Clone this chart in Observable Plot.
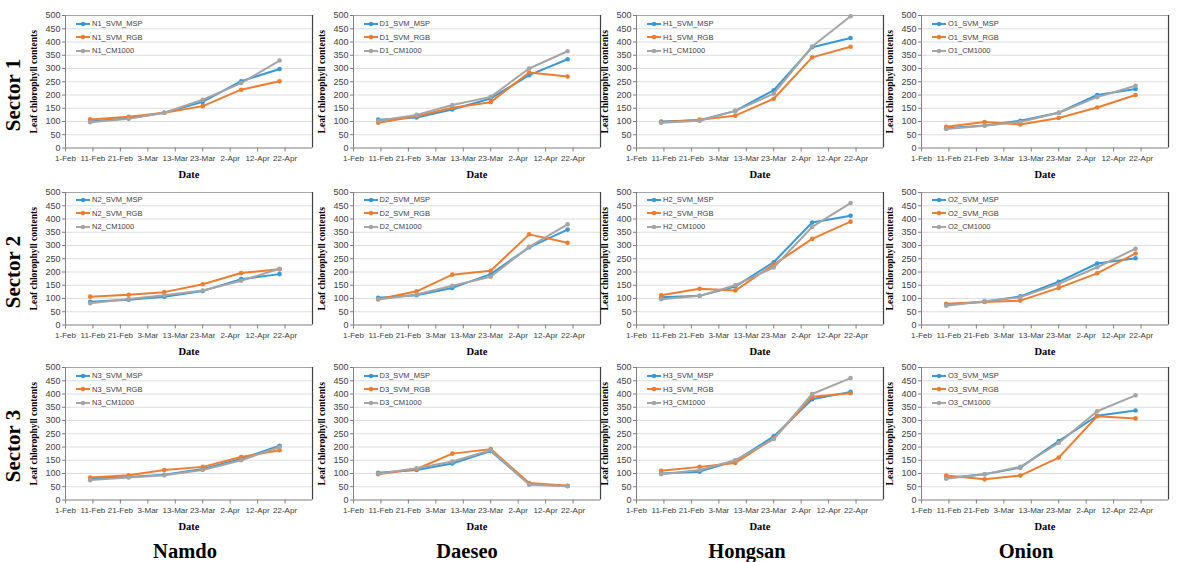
<!DOCTYPE html>
<html><head><meta charset="utf-8">
<script src="https://cdn.jsdelivr.net/npm/d3@7"></script>
<script src="https://cdn.jsdelivr.net/npm/@observablehq/plot@0.6"></script>
<style>
body{margin:0;background:#fff;}
#wrap{position:relative;width:1183px;height:562px;overflow:hidden;background:#fff;}
.panel{position:absolute;}
.panel svg{overflow:visible;}
.panel g[aria-label="y-axis label"] text,.panel g[aria-label="x-axis label"] text{font-family:"Liberation Serif","Times New Roman",serif;font-weight:bold;fill:#000;}
.panel g[aria-label="y-axis label"] text{font-size:9.5px;}
.panel g[aria-label="x-axis label"] text{font-size:10.5px;}
.panel g[aria-label="x-axis tick label"] text,.panel g[aria-label="y-axis tick label"] text{fill:#404040;}
.legend{position:absolute;font:7.5px "Liberation Sans",Arial,sans-serif;color:#404040;}
.legend .row{display:flex;align-items:center;height:13.5px;white-space:nowrap;}
.legend svg{margin-right:2px;}
.sector,.crop{position:absolute;font-family:"Liberation Serif","Times New Roman",serif;font-weight:bold;color:#000;white-space:nowrap;line-height:1;}
.sector{font-size:21px;transform:translate(-50%,-50%) rotate(-90deg);}
.crop{font-size:20.5px;transform:translate(-50%,-50%);}
</style></head>
<body><div id="wrap"></div>
<script>
// ---- data ----
const sampleDates = ["2019-02-10","2019-02-24","2019-03-09","2019-03-23","2019-04-06","2019-04-20"];
const xTickDates = ["2019-02-01","2019-02-11","2019-02-21","2019-03-03","2019-03-13","2019-03-23","2019-04-02","2019-04-12","2019-04-22"];
const xTickLabels = ["1-Feb","11-Feb","21-Feb","3-Mar","13-Mar","23-Mar","2-Apr","12-Apr","22-Apr"];
const xDomain = ["2019-02-01","2019-05-02"];
const yTicks = [0,50,100,150,200,250,300,350,400,450,500];
const crops = ["N","D","H","O"];
const cropNames = ["Namdo","Daeseo","Hongsan","Onion"];
const sectors = ["Sector 1","Sector 2","Sector 3"];
const seriesSuffix = ["SVM_MSP","SVM_RGB","CM1000"];
const seriesColors = ["#3a98d4","#ed7d31","#a5a5a5"];

const N1_MSP = [100,112,133,174,252,298];
const N1_RGB = [108,118,133,158,220,252];
const N1_CM  = [97,110,133,182,245,330];
const D1_MSP = [107,115,145,187,275,335];
const D1_RGB = [95,120,152,173,285,270];
const D1_CM  = [103,125,162,193,300,365];
const H1_MSP = [100,105,140,218,380,415];
const H1_RGB = [97,107,122,186,342,382];
const H1_CM  = [95,103,140,205,383,497];
const O1_MSP = [75,85,103,133,200,223];
const O1_RGB = [80,98,89,113,153,200];
const O1_CM  = [72,84,98,133,192,235];

const N2_MSP = [88,95,107,128,173,192];
const N2_RGB = [107,114,124,154,196,210];
const N2_CM  = [82,98,112,130,167,212];
const D2_MSP = [103,112,140,192,293,360];
const D2_RGB = [97,127,190,205,342,310];
const D2_CM  = [96,115,148,182,295,380];
const H2_MSP = [105,110,145,237,387,412];
const H2_RGB = [112,137,130,228,325,390];
const H2_CM  = [97,110,150,217,370,460];
const O2_MSP = [77,88,108,163,232,252];
const O2_RGB = [80,87,92,140,195,270];
const O2_CM  = [73,90,105,155,218,288];

const N3_MSP = [80,87,95,117,155,205];
const N3_RGB = [85,93,113,125,162,188];
const N3_CM  = [75,85,93,113,150,200];
const D3_MSP = [103,113,138,185,60,53];
const D3_RGB = [97,117,175,192,64,54];
const D3_CM  = [99,120,145,188,58,52];
const H3_MSP = [100,107,148,240,380,408];
const H3_RGB = [110,125,140,232,390,403];
const H3_CM  = [97,113,150,230,400,460];
const O3_MSP = [83,97,122,222,318,338];
const O3_RGB = [92,78,92,160,316,308];
const O3_CM  = [80,97,125,215,335,395];

const panelSeries = {
  N1:[N1_MSP,N1_RGB,N1_CM], D1:[D1_MSP,D1_RGB,D1_CM], H1:[H1_MSP,H1_RGB,H1_CM], O1:[O1_MSP,O1_RGB,O1_CM],
  N2:[N2_MSP,N2_RGB,N2_CM], D2:[D2_MSP,D2_RGB,D2_CM], H2:[H2_MSP,H2_RGB,H2_CM], O2:[O2_MSP,O2_RGB,O2_CM],
  N3:[N3_MSP,N3_RGB,N3_CM], D3:[D3_MSP,D3_RGB,D3_CM], H3:[H3_MSP,H3_RGB,H3_CM], O3:[O3_MSP,O3_RGB,O3_CM]
};

// ---- layout ----
const colX0 = [65, 352.5, 636, 921];
const rowTop = [15.3, 191.7, 367.3];
const PW = 247, PH = 132.5, ML = 48, MR = 6, MT = 6, MB = 42;
const sectorY = [95, 272, 446];
const cropX = [185, 467, 747, 1026];

const wrap = document.getElementById("wrap");
const tickTimes = xTickDates.map(d => +new Date(d));

sectors.forEach((sec, r) => {
  crops.forEach((cr, c) => {
    const code = cr + (r + 1);
    const arrs = panelSeries[code];
    const marks = [
      Plot.ruleY(yTicks.filter(v => v > 0 && v < 500), {stroke: "#d9d9d9", strokeWidth: 0.9}),
      Plot.ruleY([500], {stroke: "#a6a6a6", strokeWidth: 1}),
      Plot.ruleX([new Date(xDomain[1])], {stroke: "#404040", strokeWidth: 1.2}),
      Plot.axisY({ticks: yTicks, tickSize: 3, tickPadding: 2, fontSize: 9, stroke: "#7f7f7f",
        label: "Leaf chlorophyll contents", labelAnchor: "center", labelOffset: 35, labelArrow: "none"}),
      Plot.axisX({ticks: xTickDates.map(d => new Date(d)), tickSize: 4, tickPadding: 3, fontSize: 8, stroke: "#7f7f7f",
        tickFormat: d => xTickLabels[tickTimes.indexOf(+d)],
        label: "Date", labelAnchor: "center", labelOffset: 30, labelArrow: "none"}),
      Plot.ruleX([new Date(xDomain[0])], {stroke: "#7f7f7f", strokeWidth: 1}),
      Plot.ruleY([0], {stroke: "#7f7f7f", strokeWidth: 1})
    ];
    seriesSuffix.forEach((s, i) => {
      const rows = arrs[i].map((v, j) => ({date: new Date(sampleDates[j]), value: v}));
      marks.push(Plot.line(rows, {x: "date", y: "value", stroke: seriesColors[i], strokeWidth: 2}));
      marks.push(Plot.dot(rows, {x: "date", y: "value", fill: seriesColors[i], r: 2.3}));
    });
    const chart = Plot.plot({
      width: ML + PW + MR, height: MT + PH + MB,
      marginLeft: ML, marginRight: MR, marginTop: MT, marginBottom: MB,
      style: {background: "transparent", overflow: "visible", fontFamily: '"Liberation Sans", Arial, sans-serif'},
      x: {type: "utc", domain: xDomain.map(d => new Date(d))},
      y: {domain: [0, 500]},
      marks
    });
    const div = document.createElement("div");
    div.className = "panel";
    div.style.left = (colX0[c] - ML) + "px";
    div.style.top = (rowTop[r] - MT) + "px";
    div.appendChild(chart);
    wrap.appendChild(div);

    // legend
    const lg = document.createElement("div");
    lg.className = "legend";
    lg.style.left = (colX0[c] + 11) + "px";
    lg.style.top = (rowTop[r] + 1.5) + "px";
    seriesSuffix.forEach((s, i) => {
      const row = document.createElement("div");
      row.className = "row";
      row.innerHTML = `<svg width="14" height="8"><line x1="0" y1="4" x2="14" y2="4" stroke="${seriesColors[i]}" stroke-width="2"/><circle cx="7" cy="4" r="2.3" fill="${seriesColors[i]}"/></svg><span>${code}_${s}</span>`;
      lg.appendChild(row);
    });
    wrap.appendChild(lg);
  });
  const sd = document.createElement("div");
  sd.className = "sector";
  sd.style.left = "13px";
  sd.style.top = sectorY[r] + "px";
  sd.textContent = sec;
  wrap.appendChild(sd);
});
cropNames.forEach((n, c) => {
  const d = document.createElement("div");
  d.className = "crop";
  d.style.left = cropX[c] + "px";
  d.style.top = "551px";
  d.textContent = n;
  wrap.appendChild(d);
});
</script></body></html>
